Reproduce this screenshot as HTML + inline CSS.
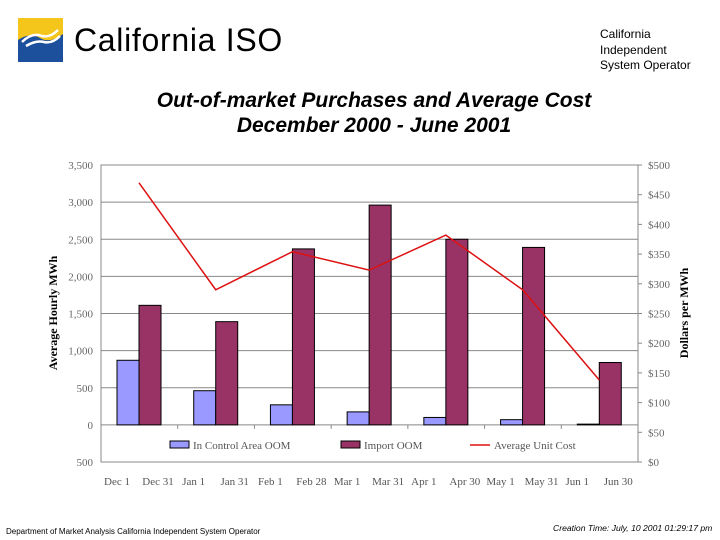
<!DOCTYPE html>
<html><head><meta charset="utf-8"><style>
body{margin:0;background:#fff;width:720px;height:540px;overflow:hidden;position:relative;font-family:"Liberation Sans",sans-serif}
.abs{position:absolute}
</style></head><body>
<svg class="abs" style="left:18px;top:18px" width="45" height="44" viewBox="0 0 45 44">
<rect width="45" height="44" fill="#f4c51b"/>
<path d="M0 22 Q12 14 22 20 Q32 26 45 16 L45 44 L0 44Z" fill="#1c4f9c"/>
<path d="M4 24 Q14 14 24 18 Q32 20 40 12 M8 28 Q18 22 26 24 Q34 26 42 18" stroke="#fff" stroke-width="2.5" fill="none"/>
</svg>
<div class="abs" style="left:74px;top:22px;font-size:32px;letter-spacing:0.7px">California ISO</div>
<div class="abs" style="left:600px;top:27px;font-size:12px;line-height:15.5px">California<br>Independent<br>System Operator</div>
<div class="abs" style="left:0;width:748px;top:88px;text-align:center;font-size:21px;font-weight:bold;font-style:italic;line-height:25px">Out-of-market Purchases and Average Cost<br>December 2000 - June 2001</div>
<svg id="chart" class="abs" style="left:0;top:0" width="720" height="540"></svg>
<div class="abs" style="left:6px;top:527px;font-size:8px">Department of Market Analysis California Independent System Operator</div>
<div class="abs" style="left:553px;top:523px;font-size:8.6px;font-style:italic">Creation Time: July, 10 2001 01:29:17 pm</div>
<script>
const categories=["Dec","Jan","Feb","Mar","Apr","May","Jun"];
const startLabels=["Dec 1","Jan 1","Feb 1","Mar 1","Apr 1","May 1","Jun 1"];
const endLabels=["Dec 31","Jan 31","Feb 28","Mar 31","Apr 30","May 31","Jun 30"];
const inControl=[870,460,270,175,100,70,10];
const importOOM=[1610,1390,2370,2960,2500,2390,840];
const avgCost=[470,290,354,323,382,290,138];
const leftTicks=[-500,0,500,1000,1500,2000,2500,3000,3500];
const rightTicks=[0,50,100,150,200,250,300,350,400,450,500];
const NS="http://www.w3.org/2000/svg";
const svg=document.getElementById('chart');
const L=101,R=638,T=165,B=462;
const yL=v=>B-(v+500)/4000*(B-T);
const yR=v=>B-v/500*(B-T);
const gw=(R-L)/categories.length;
const gx=i=>L+i*gw;
function mk(t,a){const e=document.createElementNS(NS,t);for(const k in a)e.setAttribute(k,a[k]);svg.appendChild(e);return e;}
const f='font-family:"Liberation Serif",serif;font-size:11px;fill:#666';
leftTicks.forEach(v=>{
 if(v>-500&&v<3500){const g=mk('line',{x1:L,x2:R,y1:yL(v),y2:yL(v),stroke:'#888','stroke-width':1});
 }
 const t=mk('text',{x:93,y:yL(v)+4,'text-anchor':'end',style:f});t.textContent=v.toLocaleString('en-US').replace('-','');
 
});
const box=mk('rect',{x:L,y:T,width:R-L,height:B-T,fill:'none',stroke:'#888'});

rightTicks.forEach(v=>{
 mk('line',{x1:R,x2:R+4,y1:yR(v),y2:yR(v),stroke:'#888'});
 const t=mk('text',{x:648,y:yR(v)+4,style:f});t.textContent='$'+v;
 
});
categories.forEach((c,i)=>{
 const x0=gx(i)+16,bw=22;
 const b1=mk('rect',{x:x0,y:yL(inControl[i]),width:bw,height:yL(0)-yL(inControl[i]),fill:'#9999ff',stroke:'#000','stroke-width':1});
 
 const b2=mk('rect',{x:x0+bw,y:yL(importOOM[i]),width:bw,height:yL(0)-yL(importOOM[i]),fill:'#993366',stroke:'#000','stroke-width':1});
 
 if(i>0)mk('line',{x1:gx(i),x2:gx(i),y1:yL(0),y2:yL(0)+4,stroke:'#888'});
 const s=mk('text',{x:gx(i)+16,y:485,'text-anchor':'middle',style:f+';fill:#555'});s.textContent=startLabels[i];
 
 const e=mk('text',{x:gx(i)+57,y:485,'text-anchor':'middle',style:f+';fill:#555'});e.textContent=endLabels[i];
 
});
const pts=avgCost.map((v,i)=>(gx(i)+38)+','+yR(v)).join(' ');
const ln=mk('polyline',{points:pts,fill:'none',stroke:'#dd1111','stroke-width':1.5});

const lg=[[170,'#9999ff','In Control Area OOM'],[341,'#993366','Import OOM']];
lg.forEach(([x,c,t])=>{mk('rect',{x:x,y:441,width:19,height:7,fill:c,stroke:'#000'});
 const tx=mk('text',{x:x+23,y:449,style:f+';fill:#555'});tx.textContent=t;
 });
mk('line',{x1:470,x2:490,y1:445,y2:445,stroke:'#dd1111','stroke-width':1.5});
const lt=mk('text',{x:494,y:449,style:f+';fill:#555'});lt.textContent='Average Unit Cost';

const yt=mk('text',{x:0,y:0,transform:'translate(57,313) rotate(-90)','text-anchor':'middle',style:'font-family:"Liberation Serif",serif;font-size:12px;font-weight:bold'});yt.textContent='Average Hourly MWh';

const yt2=mk('text',{x:0,y:0,transform:'translate(688,313) rotate(-90)','text-anchor':'middle',style:'font-family:"Liberation Serif",serif;font-size:12px;font-weight:bold'});yt2.textContent='Dollars per MWh';

</script>
</body></html>
